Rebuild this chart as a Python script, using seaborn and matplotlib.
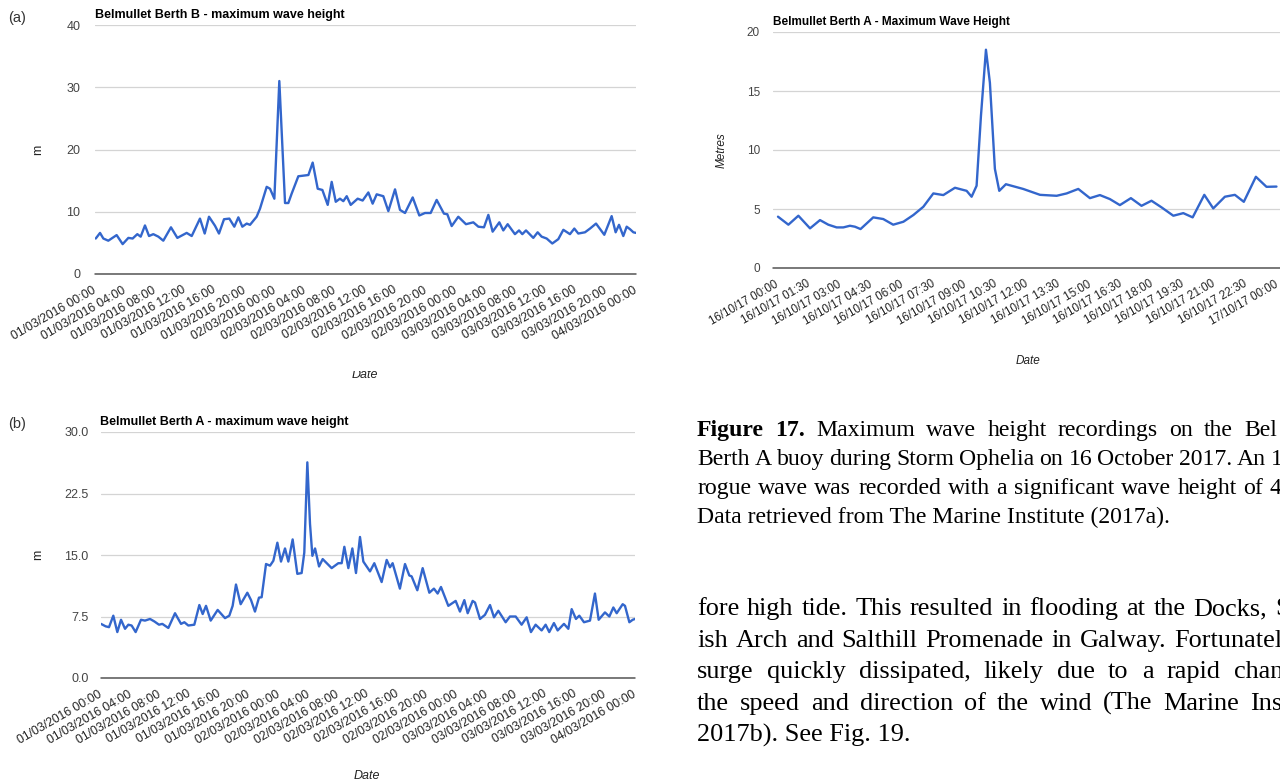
import numpy as np
import matplotlib
matplotlib.use("Agg")
import matplotlib.pyplot as plt
import seaborn as sns
from matplotlib.transforms import Bbox

# ---- data ----
# (a) Belmullet Berth B, hours after 01/03/2016 00:00
berthB_hour = [0.1, 0.67, 1.11, 1.77, 2.88, 3.68, 4.44, 5.01, 5.63, 6.08, 6.65, 7.19, 7.76, 8.43,
               9.09, 10.11, 10.96, 12.2, 12.87, 13.97, 14.6, 15.17, 15.97, 16.5, 17.17, 17.88,
               18.54, 19.08, 19.61, 20.19, 20.63, 21.51, 21.96, 22.85, 23.29, 23.87, 24.53, 25.29,
               25.73, 26.17, 27.06, 28.4, 28.97, 29.64, 30.26, 30.97, 31.5, 32.04, 32.6, 33.05,
               33.5, 34.03, 34.96, 35.62, 36.38, 36.95, 37.49, 38.37, 39.04, 39.93, 40.59, 41.26,
               42.28, 43.16, 43.92, 44.67, 45.47, 46.44, 46.89, 47.47, 48.35, 49.37, 50.35, 51.02,
               51.77, 52.35, 52.92, 53.81, 54.34, 54.92, 55.89, 56.43, 56.87, 57.36, 58.33, 58.91,
               59.44, 60.11, 60.86, 61.66, 62.33, 63.21, 63.79, 64.32, 65.21, 65.88, 66.68, 67.78,
               68.76, 69.29, 69.74, 70.31, 70.76, 71.2, 71.65, 72.0]
berthB_m = [5.7, 6.6, 5.7, 5.35, 6.25, 4.8, 5.8, 5.7, 6.4, 6.0, 7.8, 6.1, 6.4, 6.0,
            5.35, 7.5, 5.8, 6.6, 6.1, 8.9, 6.5, 9.2, 7.75, 6.5, 8.8, 8.9,
            7.6, 9.1, 7.6, 8.1, 7.9, 9.2, 10.5, 14.0, 13.7, 12.1, 31.0, 11.4,
            11.4, 12.9, 15.7, 15.9, 17.9, 13.7, 13.5, 11.1, 14.8, 11.6, 12.1, 11.7,
            12.5, 11.1, 12.1, 11.8, 13.1, 11.3, 12.8, 12.5, 10.1, 13.6, 10.3, 9.8,
            12.3, 9.4, 9.8, 9.8, 11.9, 9.7, 9.6, 7.7, 9.2, 8.0, 8.3, 7.6,
            7.5, 9.5, 6.8, 8.3, 7.0, 8.0, 6.4, 7.0, 6.4, 7.0, 5.8, 6.7,
            6.0, 5.7, 4.9, 5.6, 7.1, 6.4, 7.3, 6.5, 6.7, 7.3, 8.1, 6.3,
            9.3, 6.7, 7.9, 6.1, 7.6, 7.2, 6.7, 6.6]

# (b) Belmullet Berth A, hours after 01/03/2016 00:00
berthA_hour = [0.0, 0.63, 1.08, 1.66, 2.2, 2.7, 3.24, 3.69, 4.13, 4.67, 5.39, 5.93, 6.61, 7.19,
               7.82, 8.27, 9.08, 9.98, 10.79, 11.24, 11.77, 12.58, 13.26, 13.71, 14.16, 14.79,
               15.73, 16.72, 17.3, 17.75, 18.2, 18.83, 19.73, 20.23, 20.76, 21.3, 21.66, 22.25,
               22.79, 23.24, 23.78, 24.27, 24.81, 25.26, 25.84, 26.47, 27.05, 27.41, 27.82, 28.18,
               28.5, 28.86, 29.4, 29.89, 31.1, 32.0, 32.45, 32.81, 33.35, 33.89, 34.38, 34.92,
               35.37, 36.27, 36.85, 37.84, 38.52, 38.96, 39.32, 40.3, 40.99, 41.57, 41.88, 42.65,
               43.37, 44.27, 44.89, 45.39, 45.84, 46.83, 47.82, 48.4, 48.99, 49.44, 50.11, 50.43,
               51.1, 51.77, 52.45, 52.99, 53.57, 54.56, 55.14, 55.91, 56.71, 57.39, 57.97, 58.6,
               59.41, 59.95, 60.44, 61.07, 61.57, 62.42, 63.01, 63.46, 64.04, 64.49, 65.12, 65.93,
               66.6, 67.1, 67.95, 68.54, 69.08, 69.53, 70.34, 70.65, 71.24, 71.69, 72.0]
berthA_m = [6.6, 6.3, 6.2, 7.6, 5.6, 7.1, 6.0, 6.5, 6.4, 5.6, 7.1, 7.0, 7.2, 6.9,
            6.5, 6.6, 6.1, 7.9, 6.6, 6.8, 6.4, 6.5, 8.9, 7.8, 8.8, 7.0,
            8.3, 7.3, 7.6, 8.8, 11.4, 9.0, 10.4, 9.5, 8.1, 9.8, 9.85, 13.9,
            13.7, 14.3, 16.5, 14.2, 15.8, 14.2, 16.9, 12.7, 12.8, 15.3, 26.3, 18.8,
            14.9, 15.8, 13.6, 14.5, 13.4, 14.0, 14.0, 16.0, 13.4, 15.8, 12.8, 17.2,
            14.2, 13.0, 14.0, 11.7, 14.4, 13.5, 14.0, 10.9, 13.9, 12.5, 12.4, 10.7,
            13.4, 10.4, 10.9, 10.3, 11.1, 8.8, 9.4, 8.1, 9.5, 7.9, 9.4, 9.2,
            7.2, 7.7, 8.9, 7.4, 8.2, 6.8, 7.5, 7.5, 6.5, 7.4, 5.6, 6.5,
            5.8, 6.5, 5.6, 6.7, 5.8, 6.6, 6.0, 8.4, 7.2, 7.6, 6.8, 7.0,
            10.3, 7.1, 8.0, 7.5, 8.6, 7.9, 9.0, 8.8, 6.8, 7.1, 7.2]

march_ticks = list(range(0, 73, 4))
march_labels = ["01/03/2016 00:00", "01/03/2016 04:00", "01/03/2016 08:00", "01/03/2016 12:00",
                "01/03/2016 16:00", "01/03/2016 20:00", "02/03/2016 00:00", "02/03/2016 04:00",
                "02/03/2016 08:00", "02/03/2016 12:00", "02/03/2016 16:00", "02/03/2016 20:00",
                "02/03/2016 00:00", "03/03/2016 04:00", "03/03/2016 08:00", "03/03/2016 12:00",
                "03/03/2016 16:00", "03/03/2016 20:00", "04/03/2016 00:00"]

# Storm Ophelia, Berth A, hours after 16/10/17 00:00
ophelia_hour = [0.0, 0.5, 0.98, 1.54, 2.02, 2.42, 2.82, 3.14, 3.46, 3.7, 3.97, 4.58, 5.06, 5.54,
                6.03, 6.51, 6.99, 7.47, 7.95, 8.51, 9.07, 9.31, 9.55, 9.76, 10.0, 10.19, 10.43,
                10.64, 10.96, 11.79, 12.6, 13.4, 13.88, 14.44, 15.0, 15.48, 15.96, 16.44, 16.97,
                17.48, 17.96, 18.45, 19.01, 19.49, 19.94, 20.5, 20.93, 21.49, 21.97, 22.4, 22.98,
                23.49, 23.97]
ophelia_m = [4.35, 3.67, 4.43, 3.36, 4.06, 3.67, 3.44, 3.44, 3.58, 3.5, 3.3, 4.29, 4.15, 3.67,
             3.92, 4.49, 5.19, 6.32, 6.18, 6.8, 6.54, 6.04, 6.97, 12.9, 18.5, 15.7, 8.4,
             6.54, 7.1, 6.7, 6.2, 6.12, 6.32, 6.7, 5.92, 6.18, 5.84, 5.33, 5.92,
             5.27, 5.7, 5.13, 4.43, 4.65, 4.29, 6.2, 5.05, 6.04, 6.2, 5.61, 7.73,
             6.88, 6.9]
ophelia_ticks = [i * 1.5 for i in range(17)]
ophelia_labels = ["16/10/17 00:00", "16/10/17 01:30", "16/10/17 03:00", "16/10/17 04:30",
                  "16/10/17 06:00", "16/10/17 07:30", "16/10/17 09:00", "16/10/17 10:30",
                  "16/10/17 12:00", "16/10/17 13:30", "16/10/17 15:00", "16/10/17 16:30",
                  "16/10/17 18:00", "16/10/17 19:30", "16/10/17 21:00", "16/10/17 22:30",
                  "17/10/17 00:00"]

caption = ["Figure 17. Maximum wave height recordings on the Bel",
           "Berth A buoy during Storm Ophelia on 16 October 2017. An 1",
           "rogue wave was recorded with a significant wave height of 4",
           "Data retrieved from The Marine Institute (2017a)."]
paragraph = ["fore high tide. This resulted in flooding at the Docks, S",
             "ish Arch and Salthill Promenade in Galway. Fortunatel",
             "surge quickly dissipated, likely due to a rapid chan",
             "the speed and direction of the wind (The Marine Inst",
             "2017b). See Fig. 19."]

# ---- styling ----
sns.set_theme(style="white")
plt.rcParams['font.family'] = ['Liberation Sans', 'DejaVu Sans']

W, H = 1280, 784
BLUE = "#3366cc"
fig = plt.figure(figsize=(W / 100, H / 100), dpi=100)
fig.patch.set_facecolor("white")


def px_axes(l, t, r, b):
    return fig.add_axes([l / W, 1 - b / H, (r - l) / W, (b - t) / H])


def ftext(x, y, s, **kw):
    return fig.text(x / W, 1 - y / H, s, **kw)


def google_chart(ax, hours, metres, ymax, ystep, yfmt, ticks, labels, xsize, ysize, ypad, xlim):
    sns.lineplot(x=hours, y=metres, ax=ax, color=BLUE, linewidth=1.7, sort=False,
                 solid_joinstyle="round", solid_capstyle="round")
    ax.set_xlim(*xlim)
    ax.set_ylim(0, ymax)
    yt = np.arange(0, ymax + ystep / 2, ystep)
    ax.set_yticks(yt, [yfmt.format(v) for v in yt])
    ax.set_xticks(ticks, labels, rotation=30, ha="right", va="center", rotation_mode="anchor")
    ax.grid(axis="y", color="#d4d4d4", linewidth=0.9)
    ax.grid(axis="x", visible=False)
    ax.set_axisbelow(True)
    for s in ax.spines.values():
        s.set_visible(False)
    ax.axhline(0, color="#555555", linewidth=1.1, clip_on=False, zorder=1)
    ax.tick_params(axis="x", length=0, pad=11, labelsize=xsize, labelcolor="#222222")
    ax.tick_params(axis="y", length=0, pad=ypad, labelsize=ysize, labelcolor="#444444")
    ax.set_xlabel("")
    ax.set_ylabel("")
    ax.set_facecolor("none")


# (a)
ax_a = px_axes(95, 25, 636, 274)
google_chart(ax_a, berthB_hour, berthB_m, 40, 10, "{:.0f}", march_ticks, march_labels,
             8.8, 9, 10.5, (0, 72))
ftext(95, 15, "Belmullet Berth B - maximum wave height", fontsize=9, fontweight="bold",
      color="black", va="center")
ftext(8, 18, "(a)", fontsize=10.5, color="#333333", va="center")
ftext(38, 150, "m", fontsize=9, rotation=90, va="center", ha="center", color="#222222")
date_a = ftext(365, 375, "Date", fontsize=9, style="italic", va="center", ha="center",
               color="#222222")
date_a.set_clip_box(Bbox.from_extents(0, 0, W, H - 371))
date_a.set_clip_on(True)

# (b)
ax_b = px_axes(101, 432, 635, 678)
google_chart(ax_b, berthA_hour, berthA_m, 30, 7.5, "{:.1f}", march_ticks, march_labels,
             8.8, 9, 9, (0, 72))
ftext(100, 422, "Belmullet Berth A - maximum wave height", fontsize=9, fontweight="bold",
      color="black", va="center")
ftext(8, 424, "(b)", fontsize=10.5, color="#333333", va="center")
ftext(38, 555, "m", fontsize=9, rotation=90, va="center", ha="center", color="#222222")
ftext(367, 776, "Date", fontsize=9, style="italic", va="center", ha="center", color="#222222")

# Ophelia
ax_o = px_axes(773, 32, 1280, 268)
google_chart(ax_o, ophelia_hour, ophelia_m, 20, 5, "{:.0f}", ophelia_ticks, ophelia_labels,
             8.3, 8.5, 9.5, (-0.24, 24.14))
ftext(773, 22, "Belmullet Berth A - Maximum Wave Height", fontsize=8.5, fontweight="bold",
      color="black", va="center")
ftext(722, 150, "Metres", fontsize=8.5, style="italic", rotation=90, va="center", ha="center",
      color="#222222")
ftext(1028, 361, "Date", fontsize=8.5, style="italic", va="center", ha="center", color="#222222")

# ---- body text (justified lines, words spread so the last word starts where it does) ----
renderer = fig.canvas.get_renderer()
SERIF = ["Liberation Serif", "DejaVu Serif"]


def justified(line, x0, base_y, last_x, size, bold_words=0):
    words = line.split(" ")
    if last_x is None:
        ftext(x0, base_y, line, fontsize=size, family=SERIF, va="baseline", color="black")
        return
    items = []
    for i, w in enumerate(words):
        t = ftext(x0, base_y, w, fontsize=size, family=SERIF, va="baseline", color="black",
                  fontweight="bold" if i < bold_words else "normal")
        items.append((t, t.get_window_extent(renderer).width))
    gap = (last_x - x0 - sum(w for _, w in items[:-1])) / (len(items) - 1)
    x = x0
    for t, w in items:
        t.set_x(x / W)
        x += w + gap


cap_last = [1244, 1271, 1270, None]
cap_base = [436, 465, 494, 523]
for i, line in enumerate(caption):
    justified(line, 697, cap_base[i], cap_last[i], 17.1, bold_words=2 if i == 0 else 0)

par_last = [1275, 1174, 1234, 1250, None]
par_base = [615, 647, 678, 710, 742]
for i, line in enumerate(paragraph):
    justified(line, 697, par_base[i], par_last[i], 18.9)

fig.savefig("out.png", dpi=100, facecolor="white")
